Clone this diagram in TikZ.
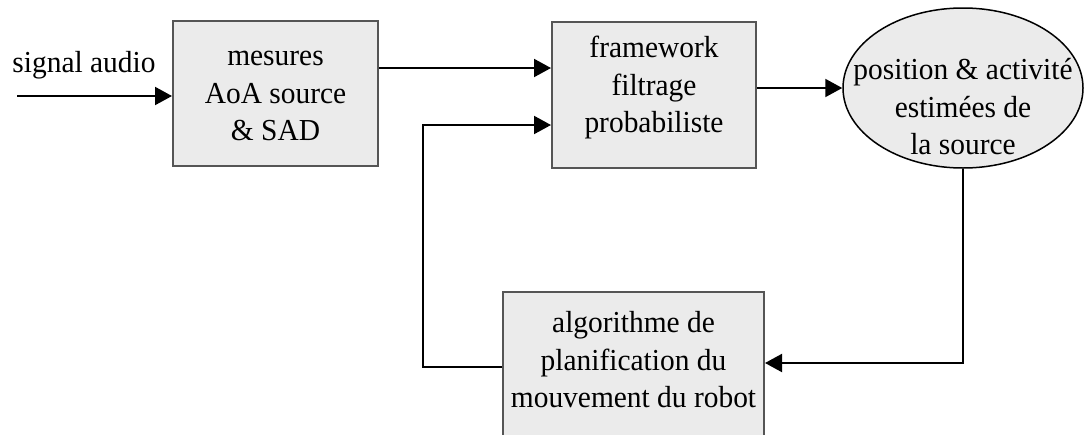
\documentclass[tikz,border=0pt]{standalone}
\usepackage{fontspec}
\setmainfont{Liberation Serif}[FakeStretch=0.965]
\usetikzlibrary{arrows.meta,shapes.geometric,calc}
\definecolor{boxfill}{HTML}{EBEBEB}
\definecolor{boxline}{HTML}{555555}
\tikzset{
  blockbox/.style={draw=boxline, line width=2pt, fill=boxfill, rectangle, inner sep=0pt},
  ellbox/.style={draw=black, line width=1.5pt, fill=boxfill, ellipse, inner sep=0pt},
  lbl/.style={align=center, inner sep=0pt, font=\fontsize{30.5}{37.5}\selectfont},
  arr/.style={line width=2pt, -{Triangle[length=17pt,width=18pt]}},
}
\begin{document}
\begin{tikzpicture}[x=1pt,y=-1pt]
\useasboundingbox (0,0) rectangle (1084,434);
% blocks
\node[blockbox, minimum width=205pt, minimum height=145pt] (box1) at (275.5,93.5) {};
\node[blockbox, minimum width=204pt, minimum height=146pt] (box2) at (654,95) {};
\node[ellbox, minimum width=240pt, minimum height=160pt] (ell) at (963,88) {};
\node[blockbox, minimum width=261pt, minimum height=153pt] (box3) at (633.5,368.5) {};
% texts
\node[lbl] (t1) at (275.5,96) {mesures\\AoA source\\\& SAD};
\node[lbl] (t2) at (654,88) {framework\\filtrage\\probabiliste};
\node[lbl] (t3) at (963,107) {position \& activité\\estimées de\\la source};
\node[lbl] (t4) at (633.5,360) {algorithme de\\planification du\\mouvement du robot};
\node[lbl, anchor=base] (sig) at (84,72) {signal audio};
% connectors
\coordinate (inp) at (17,96);
\coordinate (r1) at (0,68);
\coordinate (r2) at (0,125);
\coordinate (dn) at (0,363);
\coordinate (fb) at (423,367);
\draw[arr] (inp) -- (inp -| box1.west);
\draw[arr] (box1.east |- r1) -- (box2.west |- r1);
\draw[arr] (box2.east |- ell.west) -- (ell.west);
\draw[arr] (ell.south) |- (box3.east |- dn);
\draw[arr] (box3.west |- fb) -- (fb) |- (box2.west |- r2);
\end{tikzpicture}
\end{document}
